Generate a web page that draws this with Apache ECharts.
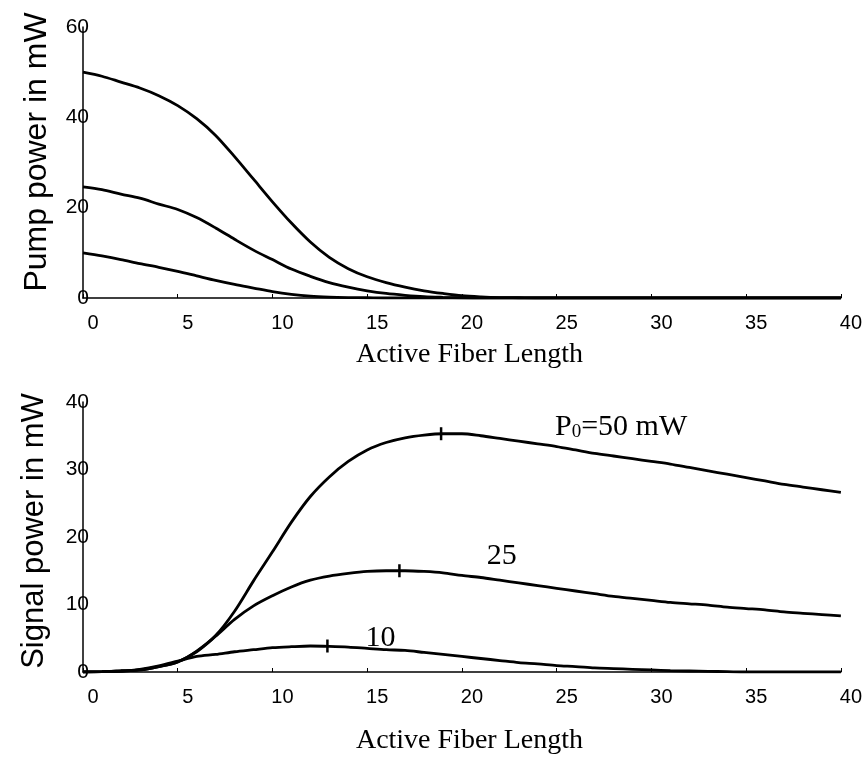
<!DOCTYPE html>
<html>
<head>
<meta charset="utf-8">
<script src="https://cdn.jsdelivr.net/npm/echarts@6/dist/echarts.min.js"></script>
<style>
  html, body { margin: 0; padding: 0; background: #fff; }
  #chart { width: 865px; height: 758px; }
</style>
</head>
<body>
<div id="chart"></div>
<script>
// ---- data ----
const fiberLength = [0,1,2,3,4,5,6,7,8,9,10,11,12,13,14,15,16,17,18,19,20,21,22,23,24,25,26,27,28,29,30,31,32,33,34,35,36,37,38,39,40];

const pump50 = [50,49.1,47.8,46.5,44.8,42.6,39.7,36.0,31.3,26.3,21.3,16.6,12.4,9.0,6.5,4.7,3.4,2.4,1.6,1.0,0.5,0.25,0.1,0.05,0,0,0,0,0,0,0,0,0,0,0,0,0,0,0,0,0];
const pump25 = [24.6,24.0,23.0,22.1,20.8,19.6,17.8,15.5,13.0,10.6,8.5,6.4,4.8,3.4,2.4,1.6,1.0,0.6,0.3,0.15,0.05,0,0,0,0,0,0,0,0,0,0,0,0,0,0,0,0,0,0,0,0];
const pump10 = [10.0,9.3,8.5,7.6,6.8,5.9,4.9,3.9,3.0,2.2,1.4,0.8,0.4,0.2,0.1,0.05,0,0,0,0,0,0,0,0,0,0,0,0,0,0,0,0,0,0,0,0,0,0,0,0,0];

const signal50 = [0,0.05,0.15,0.3,0.8,1.5,3.1,5.4,9.0,13.5,17.8,22.2,26.0,28.9,31.2,32.9,34.0,34.7,35.1,35.3,35.3,35.0,34.6,34.2,33.8,33.4,32.9,32.4,32.0,31.6,31.2,30.8,30.3,29.8,29.3,28.8,28.3,27.8,27.4,27.0,26.6];
const signal25 = [0,0.05,0.15,0.3,0.8,1.5,3.0,5.3,7.8,9.8,11.3,12.6,13.6,14.2,14.6,14.9,15.0,15.0,14.9,14.7,14.3,14.0,13.6,13.2,12.8,12.4,12.0,11.6,11.2,10.9,10.6,10.3,10.1,9.9,9.6,9.4,9.2,8.9,8.7,8.5,8.3];
const signal10 = [0,0.05,0.15,0.4,0.9,1.6,2.3,2.6,3.0,3.3,3.6,3.75,3.85,3.8,3.7,3.5,3.3,3.2,2.9,2.6,2.3,2.0,1.7,1.4,1.2,0.95,0.8,0.6,0.5,0.4,0.3,0.2,0.15,0.1,0.05,0,0,0,0,0,0];

// maxima markers on the signal curves [length, power]
const peakLength = [18.9, 16.7, 12.9];
const peakPower  = [35.3, 15.0, 3.85];

// curve annotations [length, power, text]
const annLength = [28.4, 22.1, 15.7];
const annPower  = [36.3, 17.2, 5.0];
const annText   = ['P0=50 mW', '25', '10'];

const xTicks = [0, 5, 10, 15, 20, 25, 30, 35, 40];

// ---- chart ----
const zip = (xs, ys) => xs.map((x, i) => [x, ys[i]]);
const chart = echarts.init(document.getElementById('chart'), null, { renderer: 'canvas' });

const tickFont = { fontFamily: 'Liberation Sans', fontSize: 20, color: '#000' };

function xAxisFor(gridIndex, gap) {
  return {
    gridIndex, type: 'value', min: xTicks[0], max: xTicks[xTicks.length - 1], interval: 5,
    axisLine: { show: true, onZero: false, lineStyle: { color: '#000', width: 1.5 } },
    axisTick: { show: true, inside: true, length: 4, lineStyle: { color: '#000', width: 1 } },
    splitLine: { show: false },
    axisLabel: Object.assign({ margin: 15, padding: [0, 0, 0, 20] }, tickFont),
    name: 'Active Fiber Length', nameLocation: 'middle', nameGap: gap,
    nameTextStyle: { fontFamily: 'Liberation Serif', fontSize: 28, color: '#000', padding: [0, 0, 0, 15] }
  };
}
function yAxisFor(gridIndex, max, interval, name, size, gap, shift) {
  return {
    gridIndex, type: 'value', min: 0, max, interval,
    axisLine: { show: true, onZero: false, lineStyle: { color: '#000', width: 1.5 } },
    axisTick: { show: false },
    splitLine: { show: false },
    axisLabel: Object.assign({ margin: -6 }, tickFont, { fontSize: 21 }),
    name, nameLocation: 'middle', nameGap: gap,
    nameTextStyle: { fontFamily: 'Liberation Sans', fontSize: size, color: '#000', padding: [0, 0, 0, shift] }
  };
}

function curve(xi, yi, ys) {
  return {
    type: 'line', xAxisIndex: xi, yAxisIndex: yi, data: zip(fiberLength, ys),
    showSymbol: false, symbol: 'none', smooth: 0.3,
    lineStyle: { color: '#000', width: 2.8 }, silent: true, z: 3
  };
}

chart.setOption({
  animation: false,
  backgroundColor: '#fff',
  grid: [
    { left: 83, top: 27, width: 759, height: 271 },
    { left: 83, top: 402, width: 759, height: 270 }
  ],
  xAxis: [ xAxisFor(0, 43), xAxisFor(1, 55) ],
  yAxis: [
    yAxisFor(0, 60, 20, 'Pump power in mW', 32, 30, 21),
    yAxisFor(1, 40, 10, 'Signal power in mW', 31, 33, 12)
  ],
  series: [
    curve(0, 0, pump50),
    curve(0, 0, pump25),
    curve(0, 0, pump10),
    curve(1, 1, signal50),
    curve(1, 1, signal25),
    curve(1, 1, signal10),
    {
      type: 'scatter', xAxisIndex: 1, yAxisIndex: 1, silent: true, z: 4,
      symbol: 'rect', symbolSize: [2.5, 13],
      itemStyle: { color: '#000', opacity: 1 },
      data: zip(peakLength, peakPower)
    },
    {
      type: 'scatter', xAxisIndex: 1, yAxisIndex: 1, silent: true, z: 5,
      symbolSize: 1, itemStyle: { color: 'rgba(0,0,0,0)', opacity: 1 },
      data: annLength.map((x, i) => ({ value: [x, annPower[i]], name: annText[i] })),
      label: {
        show: true, position: 'inside', opacity: 1,
        fontFamily: 'Liberation Serif', fontSize: 30, color: '#000',
        formatter: p => p.name.startsWith('P0')
          ? '{a|P}{s|0}{a|' + p.name.slice(2) + '}'
          : p.name,
        rich: {
          a: { fontFamily: 'Liberation Serif', fontSize: 30, color: '#000', verticalAlign: 'bottom' },
          s: { fontFamily: 'Liberation Serif', fontSize: 19, color: '#000', verticalAlign: 'bottom' }
        }
      }
    }
  ]
});
</script>
</body>
</html>
